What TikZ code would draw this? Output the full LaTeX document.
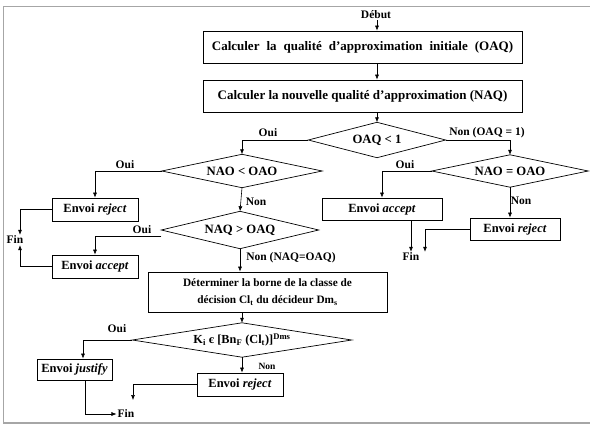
\documentclass[tikz,border=0pt]{standalone}
\usepackage{fontspec}
\setmainfont{Liberation Serif}
\usetikzlibrary{arrows.meta}
\newcommand\mywidesp{\spaceskip=7pt plus 1pt\relax}
\tikzset{
  box/.style={draw, line width=0.7pt, inner sep=0pt, align=center, font=\fontsize{12.5}{14}\selectfont\bfseries},
  topbox/.style={box, font=\fontsize{13}{15}\selectfont\bfseries},
  dia/.style={inner sep=0pt, font=\fontsize{12.7}{14}\selectfont\bfseries},
  diaedge/.style={line width=0.7pt},
  lab/.style={inner sep=1pt, font=\fontsize{11.5}{13}\selectfont\bfseries},
  fin/.style={inner sep=1pt, font=\fontsize{11.5}{13}\selectfont\bfseries},
  arr/.style={line width=0.6pt, -{Latex[length=5pt,width=4pt]}},
}
\begin{document}
\begin{tikzpicture}[x=1pt,y=-1pt]
\useasboundingbox (0,0) rectangle (590,426);
\draw[gray!70, line width=1.3pt] (590,6.5) -- (3.5,6.5) -- (3.5,423) -- (590,423);

\node[lab] (debut) at (376,15) {Début};
\node[topbox, minimum width=319pt, minimum height=32pt] (b1) at (362.5,47) {\mywidesp Calculer la qualité d’approximation initiale (OAQ)};
\node[topbox, minimum width=319pt, minimum height=32pt] (b2) at (362.5,96) {Calculer la nouvelle qualité d’approximation (NAQ)};
\node[dia, minimum width=137pt, minimum height=35pt] (d1) at (377,140) {OAQ < 1};
\node[dia, minimum width=160pt, minimum height=33pt] (d2) at (242,171) {NAO < OAO};
\node[dia, minimum width=157pt, minimum height=37pt] (d3) at (240,230) {NAQ > OAQ};
\node[dia, minimum width=156pt, minimum height=32pt] (d4) at (510,171) {NAO = OAO};
\node[dia, font=\fontsize{12.3}{14}\selectfont\bfseries, minimum width=219pt, minimum height=34pt] (d5) at (242,340) {K\textsubscript{i} є [Bn\textsubscript{F} (Cl\textsubscript{t})]\textsuperscript{Dms}};
\foreach \d in {d1,d2,d3,d4,d5}
  \draw[diaedge] (\d.north) -- (\d.east) -- (\d.south) -- (\d.west) -- cycle;

\node[box, minimum width=86pt, minimum height=23pt] (r1) at (95,209.5) {Envoi \textit{reject}};
\node[box, minimum width=86pt, minimum height=23pt] (a1) at (95,266.5) {Envoi \textit{accept}};
\node[box, font=\fontsize{11.3}{17}\selectfont\bfseries, minimum width=239pt, minimum height=40pt] (det) at (267.5,292) {Déterminer la borne de la classe de\\décision Cl\textsubscript{t} du décideur Dm\textsubscript{s}};
\node[box, minimum width=75pt, minimum height=21pt] (j) at (74.5,369.5) {Envoi \textit{justify}};
\node[box, minimum width=86pt, minimum height=23pt] (r3) at (240,384.5) {Envoi \textit{reject}};
\node[box, minimum width=120pt, minimum height=22pt] (a2) at (382,209) {Envoi \textit{accept}};
\node[box, minimum width=90pt, minimum height=22pt] (r2) at (515,229) {Envoi \textit{reject}};

\node[fin] (fin1) at (15,240) {Fin};
\node[fin] (fin2) at (411,257) {Fin};
\node[fin] (fin3) at (126,414) {Fin};

\node[lab] at (268,133) {Oui};
\node[lab] at (487,133) {Non (OAQ = 1)};
\node[lab] at (125,165) {Oui};
\node[lab] at (256,202) {Non};
\node[lab] at (142,230) {Oui};
\node[lab] at (291,258) {Non (NAQ=OAQ)};
\node[lab] at (405,165) {Oui};
\node[lab] at (521,201) {Non};
\node[lab] at (117,329) {Oui};
\node[lab, font=\fontsize{9.5}{11}\selectfont\bfseries] at (267,366) {Non};

\coordinate (e3) at (133,400);

\draw[arr] (debut.south -| d1.north) -- (b1.north -| d1.north);
\draw[arr] (b1.south -| d1.north) -- (b2.north -| d1.north);
\draw[arr] (b2.south -| d1.north) -- (d1.north);
\draw[arr] (d1.west) -| (d2.north);
\draw[arr] (d1.east) -| (d4.north);
\draw[arr] (d2.west) -| (r1.north);
\draw[arr] (d2.south) -- (d3.north);
\draw[arr] (r1.west) -| ([xshift=5pt]fin1.north);
\draw[arr] (a1.west) -| ([xshift=5pt]fin1.south);
\draw[arr] ([yshift=-6pt]d3.west) -| (a1.north);
\draw[arr] (d3.south) -- (d3.south |- det.north);
\draw[arr] (d5.north |- det.south) -- (d5.north);
\draw[arr] (d5.west) -| ([xshift=8.5pt]j.north);
\draw[arr] ([xshift=10.5pt]j.south) |- (fin3.west);
\draw[arr] (d5.south) -- (d5.south |- r3.north);
\draw[arr] (r3.west) -| (e3);
\draw[arr] (d4.west) -| (a2.north);
\draw[arr] (d4.south) -- (d4.south |- r2.north);
\draw[arr] (a2.south -| fin2.north) -- (fin2.north);
\draw[arr] (r2.west) -| ([xshift=14pt]fin2.north);
\end{tikzpicture}
\end{document}
